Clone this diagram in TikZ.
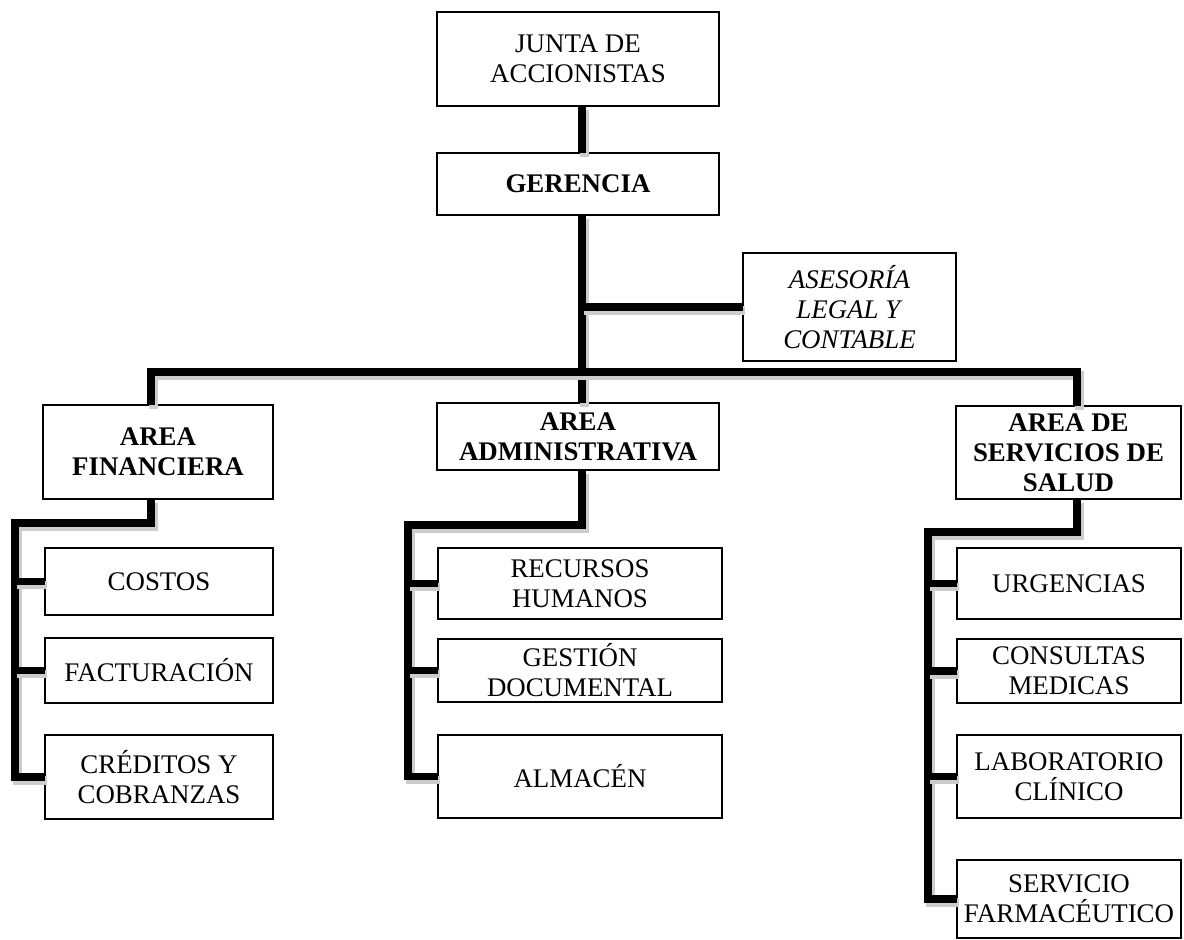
\documentclass[tikz,border=0pt]{standalone}
\usepackage{fontspec}
\setmainfont{Liberation Serif}
\usetikzlibrary{positioning, calc}

\tikzset{
  box/.style={draw, line width=1.6pt, align=center, inner sep=0pt, outer sep=0pt,
    font=\fontsize{15.3}{17}\selectfont},
  link/.style={line width=4pt,
    preaction={draw, black!20, line width=5pt, transform canvas={shift={(1.2pt,-2pt)}}}}
}

\begin{document}
\begin{tikzpicture}[x=0.02cm, y=-0.02cm]
    \useasboundingbox (0,0) rectangle (1184,940);

    % top of the chart
    \node (jun) [box, minimum width=5.64cm, minimum height=1.88cm] at (578,59) {JUNTA DE\\ACCIONISTAS};
    \node (ger) [box, minimum width=5.64cm, minimum height=1.24cm] at (578,184) {\textbf{GERENCIA}};
    \node (ase) [box, minimum width=4.26cm, minimum height=2.16cm] at (849.5,307) {\textit{ASESORÍA}\\\textit{LEGAL Y}\\\textit{CONTABLE}};

    % areas
    \node (fin) [box, minimum width=4.6cm, minimum height=1.88cm] at (158,452) {\textbf{AREA}\\\textbf{FINANCIERA}};
    \node (adm) [box, minimum width=5.64cm, minimum height=1.34cm] at (578,436.5) {\textbf{AREA}\\\textbf{ADMINISTRATIVA}};
    \node (sal) [box, minimum width=4.5cm, minimum height=1.86cm] at (1068.5,452.5) {\textbf{AREA DE}\\\textbf{SERVICIOS DE}\\\textbf{SALUD}};

    % area financiera
    \node (cos) [box, minimum width=4.56cm, minimum height=1.34cm] at (159,581.5) {COSTOS};
    \node (fac) [box, minimum width=4.56cm, minimum height=1.30cm] at (159,670.5) {FACTURACIÓN};
    \node (cre) [box, minimum width=4.56cm, minimum height=1.68cm] at (159,777) {CRÉDITOS Y\\COBRANZAS};

    % area administrativa
    \node (rec) [box, minimum width=5.68cm, minimum height=1.42cm] at (580,583.5) {RECURSOS\\HUMANOS};
    \node (ges) [box, minimum width=5.68cm, minimum height=1.26cm] at (580,670.5) {GESTIÓN\\DOCUMENTAL};
    \node (alm) [box, minimum width=5.68cm, minimum height=1.66cm] at (580,776.5) {ALMACÉN};

    % area de servicios de salud
    \node (urg) [box, minimum width=4.48cm, minimum height=1.42cm] at (1069,583.5) {URGENCIAS};
    \node (con) [box, minimum width=4.48cm, minimum height=1.28cm] at (1069,671) {CONSULTAS\\MEDICAS};
    \node (lab) [box, minimum width=4.48cm, minimum height=1.66cm] at (1069,776.5) {LABORATORIO\\CLÍNICO};
    \node (ser) [box, minimum width=4.48cm, minimum height=1.56cm] at (1069,899) {SERVICIO\\FARMACÉUTICO};

    \coordinate (spine) at (582,0);
    \coordinate (busL) at (151,372);
    \coordinate (busR) at (1077,372);
    \coordinate (finT) at (15,523);
    \coordinate (admT) at (408,525);
    \coordinate (salT) at (928,532);

    % connectors
    \draw [link] (spine |- jun.south) -- (spine |- ger.north);
    \draw [link] (spine |- ger.south) -- (spine |- adm.north);
    \draw [link] (spine |- ase.west) -- (ase.west);
    \draw [link] (busL |- fin.north) -- (busL) -- (busR) -- (busR |- sal.north);

    \draw [link] (busL |- fin.south) |- (finT) |- (cre.west);
    \draw [link] (spine |- adm.south) |- (admT) |- (alm.west);
    \draw [link] (busR |- sal.south) |- (salT) |- (ser.west);
    \foreach \b in {cos, fac}
        \draw [link] (finT |- \b.west) -- (\b.west);
    \foreach \b in {rec, ges}
        \draw [link] (admT |- \b.west) -- (\b.west);
    \foreach \b in {urg, con, lab}
        \draw [link] (salT |- \b.west) -- (\b.west);
\end{tikzpicture}
\end{document}
